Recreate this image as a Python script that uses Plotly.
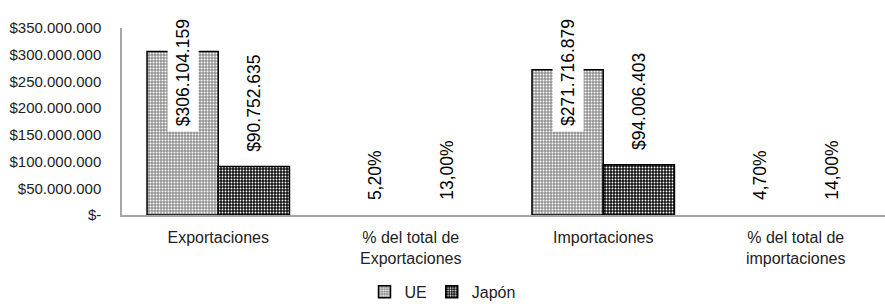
import plotly.graph_objects as go

categories = ["Exportaciones", "% del total de<br>Exportaciones", "Importaciones", "% del total de<br>importaciones"]
series_names = ["UE", "Japón"]
ue_values = [306104159, 0.052, 271716879, 0.047]
japon_values = [90752635, 0.13, 94006403, 0.14]
is_percent = [False, True, False, True]
y_tickvals = [0, 50000000, 100000000, 150000000, 200000000, 250000000, 300000000, 350000000]
y_ticktext = ["$-", "$50.000.000", "$100.000.000", "$150.000.000", "$200.000.000",
              "$250.000.000", "$300.000.000", "$350.000.000"]

FONT = "Arial, Liberation Sans, sans-serif"
BARGAP = 0.26


def fmt(v, pct):
    if pct:
        return f"{v * 100:.2f}%".replace(".", ",")
    return "$" + f"{int(v):,}".replace(",", ".")


fig = go.Figure()
styles = [
    dict(shape=".", fgcolor="#ffffff", bgcolor="#909090", size=3, solidity=0.35, fillmode="replace"),
    dict(shape=".", fgcolor="#ffffff", bgcolor="#111111", size=3, solidity=0.3, fillmode="replace"),
]
for name, vals, st in zip(series_names, [ue_values, japon_values], styles):
    fig.add_trace(go.Bar(
        x=list(range(len(categories))), y=vals, name=name,
        marker=dict(color=st["bgcolor"], pattern=st,
                    line=dict(color="#000000", width=[0 if p else 1.5 for p in is_percent])),
    ))

w = (1 - BARGAP) / 2
for s, vals in enumerate([ue_values, japon_values]):
    for i, (v, p) in enumerate(zip(vals, is_percent)):
        xpos = i - w / 2 + s * w
        text = fmt(v, p)
        if s == 0 and not p:
            fig.add_annotation(x=xpos, y=1, yref="paper", yanchor="top", yshift=15,
                               text=text, textangle=-90, showarrow=False,
                               bgcolor="#ffffff", borderpad=5,
                               font=dict(family=FONT, size=17.5, color="#000"))
        else:
            fig.add_annotation(x=xpos, y=v, yref="y", yanchor="bottom", yshift=12,
                               text=text, textangle=-90, showarrow=False,
                               bgcolor="#ffffff", borderpad=2,
                               font=dict(family=FONT, size=17.5, color="#000"))

fig.update_layout(
    width=885, height=304,
    margin=dict(l=122, r=0, t=28, b=89),
    paper_bgcolor="#ffffff", plot_bgcolor="#ffffff",
    barmode="group", bargap=BARGAP, bargroupgap=0,
    font=dict(family=FONT, color="#222222"),
    showlegend=True,
    legend=dict(orientation="h", xref="container", yref="container",
                x=0.5, xanchor="center", y=0.04, yanchor="middle",
                font=dict(family=FONT, size=16, color="#222222"),
                itemwidth=30, tracegroupgap=0),
)
fig.update_xaxes(
    tickmode="array", tickvals=list(range(len(categories))), ticktext=categories,
    range=[-0.5, 3.464], showline=True, linecolor="#a6a6a6", linewidth=2,
    showgrid=False, zeroline=False, ticks="", ticklabelstandoff=7, automargin=False,
    tickfont=dict(family=FONT, size=16, color="#222222"),
)
fig.update_yaxes(
    range=[0, 350000000], tickmode="array", tickvals=y_tickvals, ticktext=y_ticktext,
    showline=True, linecolor="#a6a6a6", linewidth=1.5, showgrid=False, zeroline=False,
    ticks="", ticklabelstandoff=16, automargin=False,
    tickfont=dict(family=FONT, size=15, color="#222222"),
)

fig.write_html("out.html", config={"displayModeBar": False},
               post_script="document.body.style.margin='0';document.body.style.overflow='hidden';")
